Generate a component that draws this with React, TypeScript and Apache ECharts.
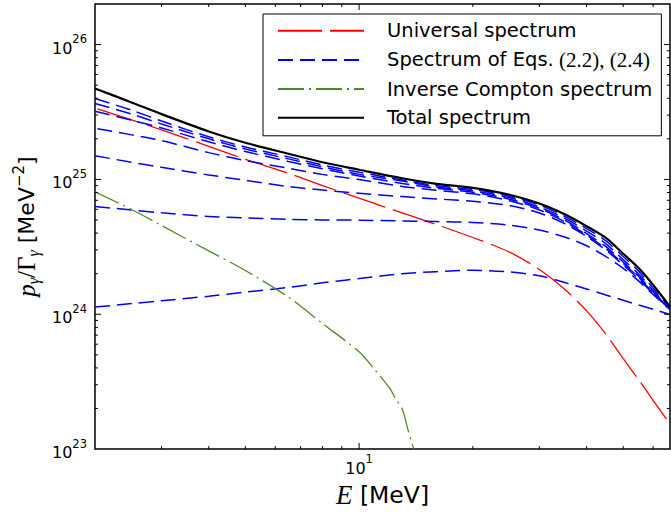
import React, { useEffect, useRef } from "react";
import * as echarts from "echarts";

// ---- data (E in MeV, p/Gamma in MeV^-2) ----
const E_MAIN = [2, 2.5, 3, 4, 5, 6.5, 8, 10, 13, 16, 20, 25, 30, 35, 40, 45, 50, 55, 60, 66.5];
const E_LATE = [2.03, 2.5, 3, 4, 5, 6.5, 8, 10, 13, 16, 20, 25, 30, 35, 40, 45, 50, 55, 60, 66.5];
const E_IC = [2, 2.5, 3, 4, 5, 6.5, 8, 10, 11, 12, 12.5, 13, 13.5, 13.95];

const UNIVERSAL = [3.33e25, 2.76e25, 2.33e25, 1.76e25, 1.41e25, 1.11e25, 9.0e24, 7.26e24, 5.65e24, 4.63e24, 3.71e24, 2.89e24, 2.15e24, 1.53e24, 1.06e24, 7.11e23, 4.69e23, 3.25e23, 2.3e23, 1.53e23];
const SPEC_A = [3.98e25, 3.26e25, 2.71e25, 2.07e25, 1.74e25, 1.47e25, 1.28e25, 1.13e25, 9.9e24, 8.98e24, 8.44e24, 7.51e24, 6.45e24, 5.32e24, 4.32e24, 3.5e24, 2.68e24, 2.08e24, 1.56e24, 1.12e24];
const SPEC_B = [3.66e25, 3.05e25, 2.58e25, 2.0e25, 1.68e25, 1.42e25, 1.24e25, 1.09e25, 9.73e24, 8.8e24, 8.23e24, 7.32e24, 6.24e24, 5.15e24, 4.14e24, 3.33e24, 2.54e24, 1.98e24, 1.5e24, 1.11e24];
const SPEC_C = [3.2e25, 2.75e25, 2.41e25, 1.9e25, 1.61e25, 1.36e25, 1.2e25, 1.06e25, 9.34e24, 8.58e24, 8.03e24, 7.14e24, 6.09e24, 4.98e24, 3.97e24, 3.17e24, 2.44e24, 1.91e24, 1.46e24, 1.1e24];
const SPEC_D = [2.38e25, 2.14e25, 1.94e25, 1.58e25, 1.38e25, 1.21e25, 1.09e25, 9.98e24, 8.88e24, 8.3e24, 7.83e24, 6.96e24, 5.94e24, 4.86e24, 3.87e24, 3.06e24, 2.38e24, 1.87e24, 1.44e24, 1.1e24];
const SPEC_E = [1.5e25, 1.34e25, 1.23e25, 1.08e25, 9.85e24, 8.85e24, 8.34e24, 7.89e24, 7.46e24, 7.17e24, 6.89e24, 6.4e24, 5.64e24, 4.7e24, 3.78e24, 2.99e24, 2.32e24, 1.82e24, 1.42e24, 1.09e24];
const SPEC_F = [6.3e24, 5.93e24, 5.65e24, 5.31e24, 5.19e24, 5.05e24, 5.01e24, 4.99e24, 4.92e24, 4.87e24, 4.79e24, 4.58e24, 4.21e24, 3.74e24, 3.22e24, 2.68e24, 2.19e24, 1.76e24, 1.4e24, 1.08e24];
const SPEC_G = [1.13e24, 1.2e24, 1.26e24, 1.36e24, 1.46e24, 1.58e24, 1.71e24, 1.84e24, 2.0e24, 2.07e24, 2.12e24, 2.06e24, 1.93e24, 1.72e24, 1.54e24, 1.39e24, 1.27e24, 1.17e24, 1.09e24, 9.95e23];
const INVERSE_COMPTON = [8.09e24, 5.98e24, 4.55e24, 2.95e24, 2.11e24, 1.34e24, 8.55e23, 5.27e23, 3.88e23, 2.88e23, 2.36e23, 1.99e23, 1.36e23, 1.0e23];
const TOTAL = [4.73e25, 3.72e25, 3.05e25, 2.27e25, 1.87e25, 1.55e25, 1.34e25, 1.18e25, 1.02e25, 9.27e24, 8.66e24, 7.7e24, 6.62e24, 5.51e24, 4.5e24, 3.68e24, 2.81e24, 2.19e24, 1.65e24, 1.14e24];

const X_MIN = 2;
const X_MAX = 66.5;
const Y_MIN = 1e23;
const Y_MAX = 2e26;

const X_MAJOR_TICKS = [10];
const X_MINOR_TICKS = [3, 4, 5, 6, 7, 8, 9, 20, 30, 40, 50, 60];
const Y_MAJOR_TICKS = [1e24, 1e25, 1e26];
const Y_MINOR_TICKS = [
  2e23, 3e23, 4e23, 5e23, 6e23, 7e23, 8e23, 9e23,
  2e24, 3e24, 4e24, 5e24, 6e24, 7e24, 8e24, 9e24,
  2e25, 3e25, 4e25, 5e25, 6e25, 7e25, 8e25, 9e25,
];

const NAME_UNIVERSAL = "Universal spectrum";
const NAME_SPEC = "Spectrum of Eqs. (2.2), (2.4)";
const NAME_IC = "Inverse Compton spectrum";
const NAME_TOTAL = "Total spectrum";

const RED = "#ff0000";
const BLUE = "#0000ff";
const GREEN = "#4d8a26";
const BLACK = "#000000";

const pair = (xs: number[], ys: number[]) => ys.map((y, i) => [xs[i], y]);

const decadeLabel = (v: number) => {
  const l = Math.log10(v);
  const r = Math.round(l);
  if (Math.abs(l - r) > 1e-6) return "";
  return `{b|10}{s|${r}}`;
};

const tickRich = {
  b: { fontFamily: "DejaVu Sans", fontSize: 16, color: "#000", lineHeight: 23, verticalAlign: "bottom" },
  s: { fontFamily: "DejaVu Sans", fontSize: 11.5, color: "#000", lineHeight: 12, verticalAlign: "top" },
};

export default function App() {
  const ref = useRef<HTMLDivElement>(null);
  useEffect(() => {
    if (!ref.current) return;
    const chart = echarts.init(ref.current, undefined, { renderer: "svg" });

    const lineBase = {
      type: "line",
      showSymbol: false,
      symbol: "none",
      smooth: 0.3,
      silent: true,
      clip: true,
    };

    const specSeries = [SPEC_A, SPEC_B, SPEC_C, SPEC_D, SPEC_E, SPEC_F, SPEC_G].map((vals, k) => ({
      ...lineBase,
      name: NAME_SPEC,
      data: pair(k === 3 ? E_LATE : E_MAIN, vals),
      lineStyle: { color: BLUE, width: 1.5, type: [15, 7] },
      itemStyle: { color: BLUE },
      z: 3,
    }));

    const xTickData = [
      ...X_MAJOR_TICKS.map((t) => [t, 1e24, 1]),
      ...X_MINOR_TICKS.map((t) => [t, 1e24, 0]),
    ];
    const yTickData = [
      ...Y_MAJOR_TICKS.map((t) => [3, t, 1]),
      ...Y_MINOR_TICKS.map((t) => [3, t, 0]),
    ];

    const tickStyle = { stroke: "#000", lineWidth: 1 };

    const option: any = {
      animation: false,
      backgroundColor: "#fff",
      grid: {
        left: 95,
        top: 4,
        right: 1,
        bottom: 56,
        show: true,
        borderColor: "#000",
        borderWidth: 1.5,
        backgroundColor: "transparent",
      },
      xAxis: {
        type: "log",
        logBase: 10,
        min: X_MIN,
        max: X_MAX,
        axisLine: { show: false },
        axisTick: { show: false },
        splitLine: { show: false },
        axisLabel: {
          margin: 4,
          formatter: decadeLabel,
          rich: tickRich,
          showMinLabel: false,
          showMaxLabel: false,
        },
        name: "{i|E}{n| [MeV]}",
        nameLocation: "middle",
        nameGap: 22,
        nameTextStyle: {
          rich: {
            i: { fontFamily: "Liberation Serif", fontStyle: "italic", fontSize: 27, color: "#000" },
            n: { fontFamily: "DejaVu Sans", fontSize: 23.5, color: "#000" },
          },
        },
      },
      yAxis: {
        type: "log",
        logBase: 10,
        min: Y_MIN,
        max: Y_MAX,
        axisLine: { show: false },
        axisTick: { show: false },
        splitLine: { show: false },
        axisLabel: {
          margin: 8,
          formatter: decadeLabel,
          rich: tickRich,
          showMaxLabel: false,
        },
        name: "{i|p}{sub|γ}{r|/Γ}{sub|γ}{n| [MeV}{sup|−2}{n|]}",
        nameLocation: "middle",
        nameGap: 49,
        nameTextStyle: {
          rich: {
            i: { fontFamily: "Liberation Serif", fontStyle: "italic", fontSize: 25, color: "#000", lineHeight: 30, verticalAlign: "middle" },
            r: { fontFamily: "Liberation Serif", fontSize: 25, color: "#000", lineHeight: 30, verticalAlign: "middle" },
            sub: { fontFamily: "Liberation Serif", fontStyle: "italic", fontSize: 16, color: "#000", lineHeight: 14, verticalAlign: "bottom" },
            n: { fontFamily: "DejaVu Sans", fontSize: 22, color: "#000", lineHeight: 30, verticalAlign: "middle" },
            sup: { fontFamily: "DejaVu Sans", fontSize: 15, color: "#000", lineHeight: 14, verticalAlign: "top" },
          },
        },
      },
      legend: {
        data: [NAME_UNIVERSAL, NAME_SPEC, NAME_IC, NAME_TOTAL],
        orient: "vertical",
        left: 263,
        top: 14,
        itemWidth: 86,
        itemHeight: 20,
        itemGap: 8.7,
        padding: [6.7, 9, 8, 14],
        borderColor: "#000",
        borderWidth: 1,
        borderRadius: 0,
        backgroundColor: "#fff",
        selectedMode: false,
        z: 10,
        itemStyle: { color: "transparent", borderColor: "transparent", borderWidth: 0 },
        formatter: (name: string) =>
          name === NAME_SPEC ? "{n|Spectrum of Eqs.}{m| (2.2), (2.4)}" : name,
        textStyle: {
          fontFamily: "DejaVu Sans",
          fontSize: 19.5,
          color: "#000",
          lineHeight: 20,
          padding: [0, 0, 0, 18],
          rich: {
            n: { fontFamily: "DejaVu Sans", fontSize: 19.5, color: "#000", lineHeight: 20 },
            m: { fontFamily: "Liberation Serif", fontSize: 21, color: "#000", lineHeight: 20 },
          },
        },
      },
      series: [
        {
          ...lineBase,
          name: NAME_UNIVERSAL,
          data: pair(E_LATE, UNIVERSAL),
          lineStyle: { color: RED, width: 1.3, type: [44, 8] },
          itemStyle: { color: RED },
          z: 2,
        },
        ...specSeries,
        {
          ...lineBase,
          name: NAME_IC,
          data: pair(E_IC, INVERSE_COMPTON),
          lineStyle: { color: GREEN, width: 1.3, type: [26, 5, 2, 5] },
          itemStyle: { color: GREEN },
          z: 4,
        },
        {
          ...lineBase,
          name: NAME_TOTAL,
          data: pair(E_MAIN, TOTAL),
          lineStyle: { color: BLACK, width: 2.2, type: "solid" },
          itemStyle: { color: BLACK },
          z: 5,
        },
        {
          type: "custom",
          silent: true,
          z: 6,
          data: xTickData,
          encode: { x: 0, y: 1 },
          renderItem: (params: any, api: any) => {
            const x = api.coord([api.value(0), 1e24])[0];
            const cs = params.coordSys;
            const len = api.value(2) ? 6 : 3;
            const b = cs.y + cs.height;
            return {
              type: "group",
              children: [
                { type: "line", shape: { x1: x, y1: b, x2: x, y2: b - len }, style: tickStyle },
                { type: "line", shape: { x1: x, y1: cs.y, x2: x, y2: cs.y + len }, style: tickStyle },
              ],
            };
          },
        },
        {
          type: "custom",
          silent: true,
          z: 6,
          data: yTickData,
          encode: { x: 0, y: 1 },
          renderItem: (params: any, api: any) => {
            const y = api.coord([3, api.value(1)])[1];
            const cs = params.coordSys;
            const len = api.value(2) ? 6 : 3;
            const r = cs.x + cs.width;
            return {
              type: "group",
              children: [
                { type: "line", shape: { x1: cs.x, y1: y, x2: cs.x + len, y2: y }, style: tickStyle },
                { type: "line", shape: { x1: r, y1: y, x2: r - len, y2: y }, style: tickStyle },
              ],
            };
          },
        },
      ],
    };

    chart.setOption(option);
    return () => chart.dispose();
  }, []);

  return (
    <div
      ref={ref}
      style={{ position: "fixed", left: 0, top: 0, width: 671, height: 513, background: "#fff" }}
    />
  );
}
